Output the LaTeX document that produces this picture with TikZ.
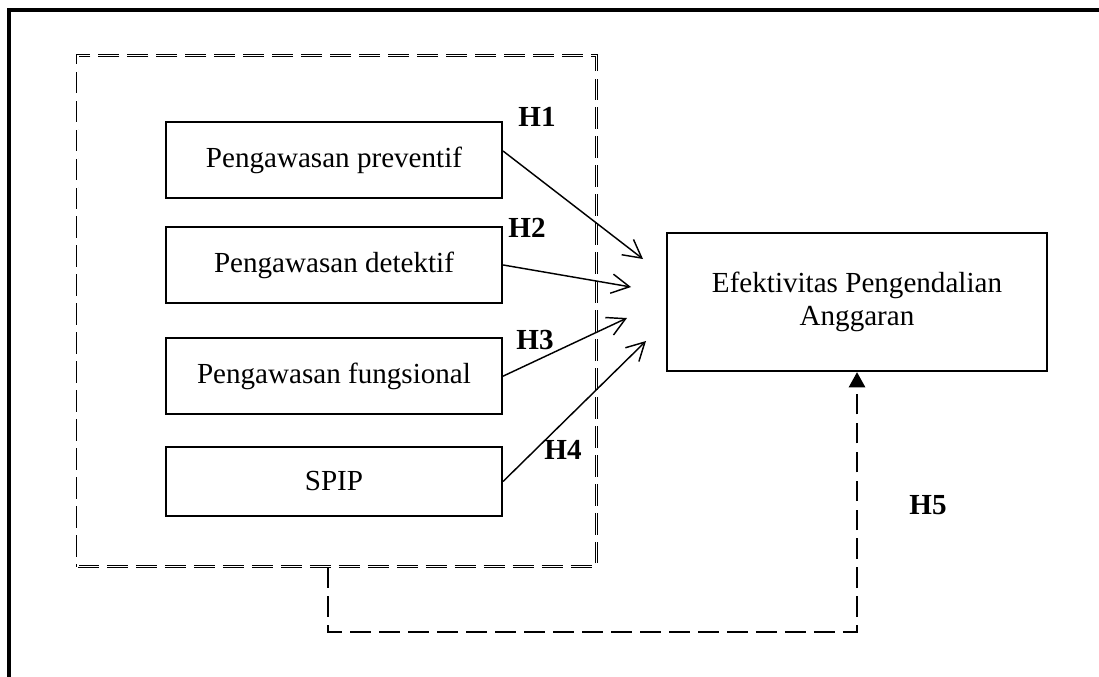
\documentclass[tikz,border=0pt]{standalone}
\usepackage{fontspec}
\setmainfont{Liberation Serif}
\usepackage{tikz}
\usetikzlibrary{
  arrows.meta,
  positioning,
}
\tikzstyle{factor} = [
rectangle,
draw,
line width=0.9pt,
minimum width=4.87cm,
minimum height=1.10cm,
text badly centered
]
\tikzstyle{outcome} = [
rectangle,
draw,
line width=0.9pt,
minimum width=5.51cm,
minimum height=2.0cm,
align=center,
font=\fontsize{12}{13.5}\selectfont
]
\tikzstyle{groupbox} = [
rectangle,
draw,
double,
double distance=0.45pt,
line width=0.4pt,
dash pattern=on 0.31cm off 0.11cm,
minimum width=7.51cm,
minimum height=7.42cm
]
\tikzstyle{hypo} = [font=\fontsize{12}{14}\bfseries]
\tikzstyle{arrow} = [draw, line width=0.6pt, -{Straight Barb[length=2.6mm,width=2.8mm]}]
\tikzstyle{feedback} = [draw, line width=1.2pt, dash pattern=on 0.30cm off 0.12cm, -{Triangle[length=2.2mm,width=2.3mm]}]

\begin{document}
\begin{tikzpicture}[x=0.0145cm, y=-0.0145cm, font=\fontsize{12}{14}\selectfont]
  \useasboundingbox (0,0) rectangle (1099,676);
  % Frame
  \draw[line width=1.4pt] (9,700) -- (9,10) -- (1110,10);

  % Place nodes
  \node [groupbox] (group) at (337,311) {};
  \node [factor] (preventif) at (334,160) {Pengawasan preventif};
  \node [factor, below=0.39cm of preventif] (detektif) {Pengawasan detektif};
  \node [factor, below=0.48cm of detektif] (fungsional) {Pengawasan fungsional};
  \node [factor, below=0.45cm of fungsional, minimum height=0.99cm] (spip) {SPIP};

  \node [outcome] (efektivitas) at (857,302) {Efektivitas Pengendalian\\Anggaran};

  \coordinate (h1tip) at (643,259);
  \coordinate (h2tip) at (631,287);
  \coordinate (h3tip) at (627,318);
  \coordinate (h4tip) at (646,341);
  \coordinate (fbcorner) at (328,632);

  \node [hypo] (h1) at (537,117) {H1};
  \node [hypo] (h2) at (527,228) {H2};
  \node [hypo] (h3) at (535,340) {H3};
  \node [hypo] (h4) at (563,450) {H4};
  \node [hypo] (h5) at (928,505) {H5};

  % Draw edges
  \path [arrow] ([yshift=0.13cm]preventif.east) -- (h1tip);
  \path [arrow] (detektif.east) -- (h2tip);
  \path [arrow] (fungsional.east) -- (h3tip);
  \path [arrow] (spip.east) -- (h4tip);

  \path [feedback] (group.south -| fbcorner) -- (fbcorner) -| (efektivitas.south);

\end{tikzpicture}
\end{document}
